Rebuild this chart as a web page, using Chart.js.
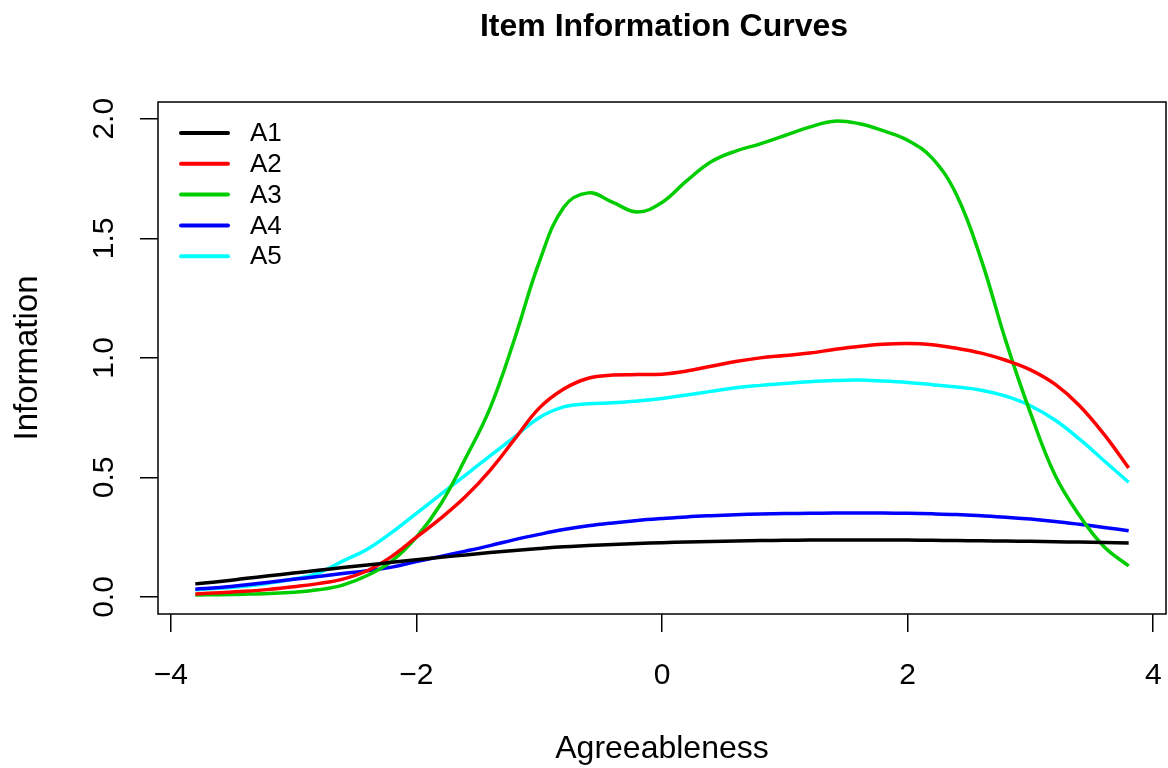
<!DOCTYPE html>
<html>
<head>
<meta charset="utf-8">
<title>Item Information Curves</title>
<script src="https://cdn.jsdelivr.net/npm/chart.js@4.4.1/dist/chart.umd.min.js"></script>
<style>
  html, body { margin: 0; padding: 0; background: #fff; }
  #wrap { width: 1168px; height: 768px; }
</style>
</head>
<body>
<div id="wrap"><canvas id="iic" width="1168" height="768"></canvas></div>
<script>
// latent trait grid and item information values
const theta = [-3.8, -3.6, -3.4, -3.2, -3.0, -2.8, -2.6, -2.4, -2.2, -2.0,
  -1.8, -1.6, -1.4, -1.2, -1.0, -0.8, -0.6, -0.4, -0.2, 0.0,
  0.2, 0.4, 0.6, 0.8, 1.0, 1.2, 1.4, 1.6, 1.8, 2.0,
  2.2, 2.4, 2.6, 2.8, 3.0, 3.2, 3.4, 3.6, 3.8];

const infoA1 = [0.055, 0.065, 0.077, 0.089, 0.100, 0.112, 0.123, 0.134, 0.145, 0.156,
  0.166, 0.176, 0.186, 0.195, 0.203, 0.210, 0.215, 0.220, 0.224, 0.227,
  0.230, 0.232, 0.234, 0.236, 0.237, 0.238, 0.238, 0.238, 0.238, 0.238,
  0.237, 0.236, 0.235, 0.234, 0.233, 0.231, 0.230, 0.228, 0.226];
const infoA2 = [0.013, 0.018, 0.024, 0.032, 0.043, 0.056, 0.075, 0.110, 0.170, 0.250,
  0.330, 0.420, 0.530, 0.660, 0.790, 0.870, 0.915, 0.928, 0.930, 0.932,
  0.945, 0.965, 0.985, 1.000, 1.010, 1.020, 1.035, 1.048, 1.057, 1.060,
  1.055, 1.040, 1.020, 0.990, 0.950, 0.890, 0.800, 0.680, 0.540];
const infoA3 = [0.008, 0.010, 0.012, 0.015, 0.020, 0.030, 0.050, 0.090, 0.150, 0.250,
  0.390, 0.580, 0.790, 1.080, 1.400, 1.630, 1.690, 1.650, 1.610, 1.650,
  1.740, 1.820, 1.865, 1.895, 1.930, 1.965, 1.990, 1.980, 1.950, 1.910,
  1.835, 1.680, 1.410, 1.070, 0.770, 0.510, 0.340, 0.210, 0.130];
const infoA4 = [0.033, 0.040, 0.050, 0.062, 0.074, 0.086, 0.098, 0.110, 0.125, 0.148,
  0.170, 0.192, 0.215, 0.240, 0.262, 0.282, 0.298, 0.310, 0.320, 0.328,
  0.335, 0.340, 0.344, 0.347, 0.349, 0.350, 0.351, 0.351, 0.351, 0.350,
  0.348, 0.345, 0.340, 0.334, 0.326, 0.316, 0.304, 0.291, 0.277];
const infoA5 = [0.030, 0.037, 0.045, 0.058, 0.075, 0.100, 0.150, 0.200, 0.270, 0.350,
  0.430, 0.510, 0.590, 0.670, 0.750, 0.795, 0.808, 0.812, 0.820, 0.830,
  0.845, 0.860, 0.875, 0.885, 0.893, 0.900, 0.905, 0.907, 0.903, 0.897,
  0.888, 0.878, 0.865, 0.840, 0.800, 0.740, 0.660, 0.570, 0.480];

const itemNames = ["A1", "A2", "A3", "A4", "A5"];
const itemColors = ["#000000", "#FF0000", "#00CD00", "#0000FF", "#00FFFF"];
const itemInfo = [infoA1, infoA2, infoA3, infoA4, infoA5];

const xTicks = [-4, -2, 0, 2, 4];
const yTicks = [0, 0.5, 1, 1.5, 2];
const yTickLabels = ["0.0", "0.5", "1.0", "1.5", "2.0"];

const FONT = "'Liberation Sans', Arial, Helvetica, sans-serif";

// box, title, rotated y labels and legend, drawn base-graphics style
const framePlugin = {
  id: "frame",
  afterDraw(chart) {
    const ctx = chart.ctx;
    const area = chart.chartArea;
    const yScale = chart.scales.y;
    ctx.save();

    ctx.strokeStyle = "#000";
    ctx.lineWidth = 1.5;
    ctx.strokeRect(area.left, area.top, area.right - area.left, area.bottom - area.top);

    ctx.fillStyle = "#000";
    ctx.font = "bold 32px " + FONT;
    ctx.textAlign = "center";
    ctx.textBaseline = "alphabetic";
    ctx.fillText("Item Information Curves", (area.left + area.right) / 2 + 2, 36);

    ctx.font = "30px " + FONT;
    yTicks.forEach((v, i) => {
      const py = yScale.getPixelForValue(v);
      ctx.save();
      ctx.translate(113, py);
      ctx.rotate(-Math.PI / 2);
      ctx.fillText(yTickLabels[i], 0, 0);
      ctx.restore();
    });

    ctx.font = "26px " + FONT;
    ctx.textAlign = "left";
    ctx.textBaseline = "middle";
    chart.data.datasets.forEach((ds, i) => {
      const ly = 133 + i * 30.8;
      ctx.strokeStyle = ds.borderColor;
      ctx.lineWidth = 4;
      ctx.lineCap = "round";
      ctx.beginPath();
      ctx.moveTo(181, ly);
      ctx.lineTo(228, ly);
      ctx.stroke();
      ctx.fillText(ds.label, 250, ly + 1);
    });

    ctx.restore();
  }
};

const datasets = itemNames.map((name, i) => ({
  label: name,
  data: theta.map((t, j) => ({ x: t, y: itemInfo[i][j] })),
  borderColor: itemColors[i],
  backgroundColor: itemColors[i],
  borderWidth: 3.5,
  pointRadius: 0,
  tension: 0.4,
  fill: false
}));

// keep scale boxes at fixed sizes, no extra label overhang padding
function fixX(s) {
  s.height = 154;
  s.paddingLeft = 0;
  s.paddingRight = 0;
}
function fixY(s) {
  s.width = 158;
  s.paddingTop = 0;
  s.paddingBottom = 0;
}

new Chart(document.getElementById("iic"), {
  type: "line",
  data: { datasets },
  plugins: [framePlugin],
  options: {
    responsive: false,
    animation: false,
    layout: { padding: { top: 102, right: 2, left: 0, bottom: 0 } },
    plugins: {
      legend: { display: false },
      title: { display: false },
      tooltip: { enabled: false }
    },
    scales: {
      x: {
        type: "linear",
        min: -4.104,
        max: 4.104,
        afterBuildTicks: s => { s.ticks = xTicks.map(value => ({ value })); },
        afterFit: fixX,
        border: { display: false },
        grid: { drawOnChartArea: false, drawTicks: true, tickLength: 18, color: "#000", lineWidth: 1.5 },
        ticks: {
          color: "#000",
          padding: 26,
          maxRotation: 0,
          font: { family: FONT, size: 30 },
          callback: v => String(v).replace("-", "\u2212")
        },
        title: {
          display: true,
          text: "Agreeableness",
          color: "#000",
          font: { family: FONT, size: 32 },
          padding: { top: 4, bottom: 0 }
        }
      },
      y: {
        type: "linear",
        min: -0.071,
        max: 2.07,
        afterBuildTicks: s => { s.ticks = yTicks.map(value => ({ value })); },
        afterFit: fixY,
        border: { display: false },
        grid: { drawOnChartArea: false, drawTicks: true, tickLength: 18, color: "#000", lineWidth: 1.5 },
        ticks: { display: false },
        title: {
          display: true,
          text: "Information",
          color: "#000",
          font: { family: FONT, size: 33 },
          padding: { top: 8, bottom: 0 }
        }
      }
    }
  }
});
</script>
</body>
</html>
